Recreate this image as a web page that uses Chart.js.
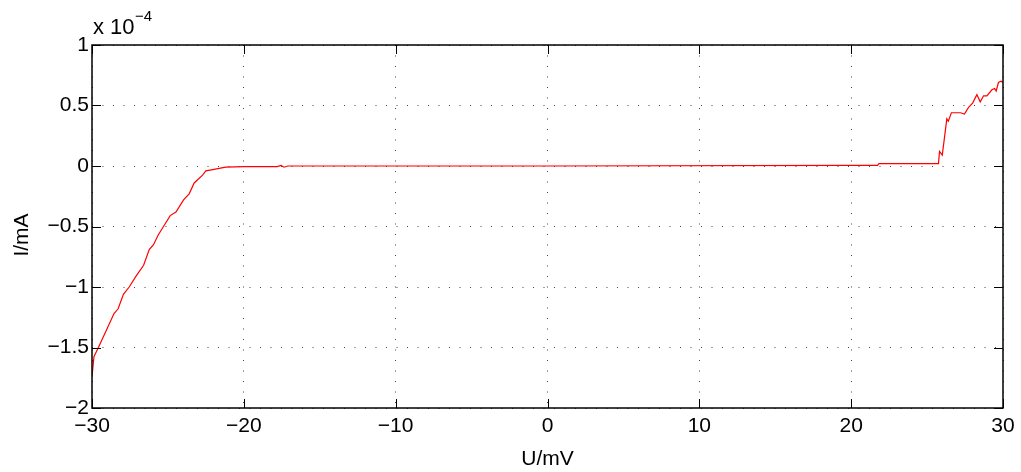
<!DOCTYPE html>
<html>
<head>
<meta charset="utf-8">
<script src="https://cdn.jsdelivr.net/npm/chart.js@4"></script>
<style>
  html, body { margin: 0; padding: 0; background: #fff; }
  #wrap { width: 1021px; height: 472px; }
</style>
</head>
<body>
<div id="wrap"><canvas id="iv"></canvas></div>
<script>
// voltage (mV) and current (x 1e-4 mA)
const voltage = [
  -30, -29.87, -29.54, -29.1, -28.55, -28.28, -27.93, -27.55, -27.1, -26.6,
  -26.23, -25.95, -25.64, -25.24, -24.85, -24.47, -23.97, -23.6, -23.27, -22.72,
  -22.5, -22.05, -21.2, -19.95, -17.8, -17.55, -17.35, -17.1,
  0, 19.76, 21.74, 21.83, 25.75, 25.82, 26.0, 26.3, 26.4, 26.6,
  27.2, 27.46, 27.73, 28.0, 28.28, 28.5, 28.72, 28.94, 29.27, 29.45,
  29.55, 29.7, 29.87, 30.0
];
const current = [
  -1.74, -1.576, -1.49, -1.37, -1.22, -1.18, -1.06, -1.0, -0.91, -0.82,
  -0.69, -0.65, -0.57, -0.49, -0.41, -0.38, -0.28, -0.23, -0.14, -0.075,
  -0.04, -0.03, -0.01, -0.005, -0.005, 0.005, -0.01, 0.0,
  0.0, 0.005, 0.005, 0.02, 0.02, 0.12, 0.09, 0.39, 0.37, 0.44,
  0.44, 0.43, 0.485, 0.52, 0.59, 0.53, 0.58, 0.58, 0.63, 0.64,
  0.62, 0.69, 0.70, 0.69
];
const xTicks = [-30, -20, -10, 0, 10, 20, 30];
const yTicks = [-2, -1.5, -1, -0.5, 0, 0.5, 1];

const font = "'Liberation Sans', Arial, sans-serif";
const minus = (v) => String(v).replace("-", "\u2212");

const points = voltage.map((v, i) => ({ x: v, y: current[i] }));

// box, inner ticks, axis titles and the exponent label, matlab style
const frame = {
  id: "frame",
  afterDraw(chart) {
    const ctx = chart.ctx;
    const a = chart.chartArea;
    const xs = chart.scales.x;
    const ys = chart.scales.y;
    const len = 9;
    ctx.save();
    ctx.strokeStyle = "#000";
    ctx.lineWidth = 1;
    ctx.beginPath();
    xTicks.forEach((t) => {
      const px = Math.round(xs.getPixelForValue(t)) + 0.5;
      ctx.moveTo(px, a.bottom); ctx.lineTo(px, a.bottom - len);
      ctx.moveTo(px, a.top); ctx.lineTo(px, a.top + len);
    });
    yTicks.forEach((t) => {
      const py = Math.round(ys.getPixelForValue(t)) + 0.5;
      ctx.moveTo(a.left, py); ctx.lineTo(a.left + len, py);
      ctx.moveTo(a.right, py); ctx.lineTo(a.right - len, py);
    });
    ctx.stroke();
    ctx.lineWidth = 1.5;
    ctx.strokeRect(a.left, a.top, a.right - a.left, a.bottom - a.top);

    ctx.fillStyle = "#000";
    ctx.textBaseline = "alphabetic";
    ctx.textAlign = "left";
    ctx.font = "22px " + font;
    ctx.fillText("x 10", a.left + 1, a.top - 11);
    ctx.font = "15px " + font;
    ctx.fillText("\u22124", a.left + 43, a.top - 24);

    ctx.font = "21px " + font;
    ctx.textAlign = "center";
    ctx.fillText("U/mV", (a.left + a.right) / 2, 465);
    ctx.translate(28, 235);
    ctx.rotate(-Math.PI / 2);
    ctx.fillText("I/mA", 0, 0);
    ctx.restore();
  }
};

new Chart(document.getElementById("iv"), {
  type: "line",
  data: {
    datasets: [{
      data: points,
      borderColor: "#ff0000",
      borderWidth: 1.2,
      pointRadius: 0,
      tension: 0,
      fill: false
    }]
  },
  options: {
    responsive: true,
    maintainAspectRatio: false,
    animation: false,
    layout: { padding: { top: 45, right: 18, left: 0, bottom: 0 } },
    plugins: { legend: { display: false }, tooltip: { enabled: false } },
    scales: {
      x: {
        type: "linear",
        min: -30, max: 30,
        afterBuildTicks: (s) => { s.ticks = xTicks.map((v) => ({ value: v })); },
        afterFit: (s) => { s.height = 64; },
        grid: { color: "#444", lineWidth: 1, drawTicks: false },
        border: { display: false, dash: [1, 9.5] },
        ticks: {
          color: "#000", padding: 6, maxRotation: 0,
          font: { family: font, size: 21 },
          callback: (v) => minus(v)
        }
      },
      y: {
        min: -2, max: 1,
        afterBuildTicks: (s) => { s.ticks = yTicks.map((v) => ({ value: v })); },
        afterFit: (s) => { s.width = 92; },
        grid: { color: "#444", lineWidth: 1, drawTicks: false },
        border: { display: false, dash: [1, 9.5] },
        ticks: {
          color: "#000", padding: 3,
          font: { family: font, size: 21 },
          callback: (v) => minus(v)
        }
      }
    }
  },
  plugins: [frame]
});
</script>
</body>
</html>
